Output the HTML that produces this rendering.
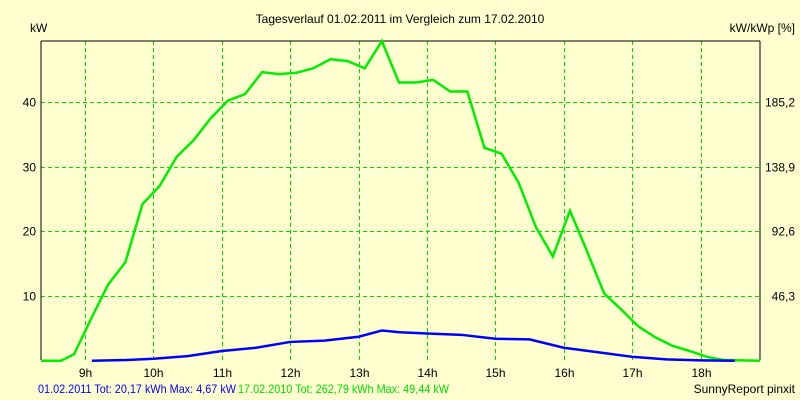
<!DOCTYPE html>
<html><head><meta charset="utf-8"><style>
body{margin:0;background:#ffffd0;}
svg{display:block;font-family:"Liberation Sans",sans-serif;font-size:12px;}
</style></head><body>
<svg width="800" height="400" id="c">
<rect width="800" height="400" fill="#ffffd0"/>
<text x="400" y="23" text-anchor="middle">Tagesverlauf 01.02.2011 im Vergleich zum 17.02.2010</text>
<text x="30" y="32">kW</text>
<text x="795" y="32" text-anchor="end">kW/kWp [%]</text>
<g id="grid"></g>
<g id="labels"></g>
<line x1="41" y1="41" x2="760" y2="41" stroke="#000"/>
<line x1="41" y1="41" x2="41" y2="360" stroke="#000"/>
<line x1="760" y1="41" x2="760" y2="360" stroke="#000"/>
<g id="series"></g>
<text x="38" y="393" fill="#0000ff" textLength="198" lengthAdjust="spacingAndGlyphs">01.02.2011 Tot: 20,17 kWh Max: 4,67 kW</text>
<text x="238" y="393" fill="#00e000" textLength="211" lengthAdjust="spacingAndGlyphs">17.02.2010 Tot: 262,79 kWh Max: 49,44 kW</text>
<text x="795" y="393" text-anchor="end">SunnyReport pinxit</text>
</svg>
<script>
const hourTicks=[9,10,11,12,13,14,15,16,17,18];
const yTicks=[10,20,30,40];
const y2Labels=["46,3","92,6","138,9","185,2"];
const greenTimes=[8.36,8.65,8.84,9.09,9.34,9.59,9.84,10.09,10.34,10.59,10.84,11.09,11.34,11.59,11.84,12.09,12.34,12.59,12.84,13.09,13.34,13.59,13.84,14.09,14.34,14.59,14.84,15.09,15.34,15.59,15.84,16.09,16.34,16.59,16.84,17.09,17.34,17.59,17.84,18.09,18.34,18.87];
const greenValues=[0,0,1.0,6.5,11.8,15.2,24.2,27,31.5,34.1,37.5,40.2,41.2,44.6,44.3,44.5,45.2,46.6,46.3,45.2,49.4,43.0,43.0,43.4,41.6,41.6,32.9,32.0,27.5,20.7,16.1,23.2,16.9,10.4,7.9,5.3,3.6,2.3,1.5,0.6,0.1,0];
const blueTimes=[9.1,9.6,10.0,10.5,11.0,11.5,12.0,12.5,13.0,13.34,13.6,14.0,14.5,15.0,15.5,16.0,16.5,17.0,17.5,18.0,18.5];
const blueValues=[0,0.1,0.3,0.7,1.5,2.0,2.9,3.1,3.7,4.67,4.4,4.2,4.0,3.4,3.3,2.0,1.3,0.6,0.2,0.05,0];
const xS=t=>85+(t-9)*68.4;
const yS=v=>360.7-v*6.47;
const NS="http://www.w3.org/2000/svg";
const grid=document.getElementById('grid'),labels=document.getElementById('labels'),series=document.getElementById('series');
function mk(tag,attrs,parent){const e=document.createElementNS(NS,tag);for(const k in attrs)e.setAttribute(k,attrs[k]);parent.appendChild(e);return e;}
hourTicks.forEach(h=>{
 const x=Math.round(xS(h))+0.5;
 const l=mk('line',{x1:x,y1:41,x2:x,y2:360,stroke:'#00e000','stroke-dasharray':'4,3'},grid);
 
 
 const t=mk('text',{x:x,y:377,'text-anchor':'middle'},labels);t.textContent=h+'h';
 
 
});
yTicks.forEach((v,i)=>{
 const y=Math.round(yS(v))+0.5;
 const l=mk('line',{x1:41,y1:y,x2:760,y2:y,stroke:'#00e000','stroke-dasharray':'4,3'},grid);
 
 
 const t=mk('text',{x:36,y:y+4,'text-anchor':'end'},labels);t.textContent=v;
 
 
 const t2=mk('text',{x:795,y:y+4,'text-anchor':'end'},labels);t2.textContent=y2Labels[i];
 
 
});
const g=mk('polyline',{points:greenTimes.map((t,i)=>xS(t)+','+yS(greenValues[i])).join(' '),fill:'none',stroke:'#00ee00','stroke-width':2.5},series);


const b=mk('polyline',{points:blueTimes.map((t,i)=>xS(t)+','+yS(blueValues[i])).join(' '),fill:'none',stroke:'#0000ff','stroke-width':2.5},series);


</script>
</body></html>
